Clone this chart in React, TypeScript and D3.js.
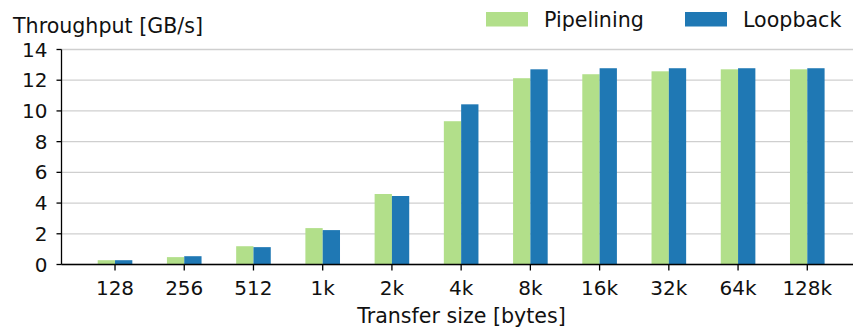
import React from "react";
import * as d3 from "d3";

const categories = ["128", "256", "512", "1k", "2k", "4k", "8k", "16k", "32k", "64k", "128k"];
const pipelining = [0.28, 0.48, 1.19, 2.37, 4.59, 9.33, 12.13, 12.39, 12.58, 12.71, 12.71];
const loopback = [0.28, 0.54, 1.13, 2.24, 4.46, 10.43, 12.71, 12.78, 12.78, 12.78, 12.78];
const yTicks = [0, 2, 4, 6, 8, 10, 12, 14];

const seriesNames = ["Pipelining", "Loopback"];
const colors = ["#b2df8a", "#1f78b4"];

const W = 853;
const H = 331;
const left = 61.5;
const top = 49.5;
const bottom = 264.5;
const font = "'DejaVu Sans', sans-serif";
const tickFs = 20;
const labelFs = 20.6;

export default function App() {
  const x = d3.scalePoint<string>().domain(categories).range([left, 860.8]).padding(0.773);
  const step = x.step();
  const barW = step * 0.25;
  const y = d3.scaleLinear().domain([0, 14]).range([bottom, top]);
  const series = [pipelining, loopback];

  return (
    <svg width={W} height={H} style={{ position: "absolute", left: 0, top: 0, background: "#fff" }}>
      {/* grid */}
      {yTicks.map((t) => (
        <line key={"g" + t} x1={left} x2={W} y1={y(t)} y2={y(t)} stroke="#cfcfcf" strokeWidth={1.3} />
      ))}
      {/* bars */}
      {series.map((vals, si) =>
        vals.map((v, i) => (
          <rect
            key={si + "-" + i}
            x={(x(categories[i]) as number) - barW + si * barW}
            y={y(v)}
            width={barW}
            height={y(0) - y(v)}
            fill={colors[si]}
          />
        ))
      )}
      {/* y axis */}
      <line x1={left} x2={left} y1={top} y2={bottom} stroke="#000" strokeWidth={1.3} />
      {yTicks.map((t) => (
        <g key={"y" + t}>
          <line x1={left - 5} x2={left} y1={y(t)} y2={y(t)} stroke="#000" strokeWidth={1.3} />
          <text x={left - 14} y={y(t) + 7} textAnchor="end" fontSize={tickFs} fontFamily={font} fill="#111">
            {t}
          </text>
        </g>
      ))}
      {/* x axis */}
      <line x1={left} x2={W} y1={bottom} y2={bottom} stroke="#000" strokeWidth={1.3} />
      {categories.map((c) => (
        <g key={"x" + c}>
          <line x1={x(c)} x2={x(c)} y1={bottom} y2={bottom + 6} stroke="#000" strokeWidth={1.3} />
          <text x={x(c)} y={295} textAnchor="middle" fontSize={tickFs} fontFamily={font} fill="#111">
            {c}
          </text>
        </g>
      ))}
      <text x={461.5} y={323} textAnchor="middle" fontSize={labelFs} fontFamily={font} fill="#111">
        Transfer size [bytes]
      </text>
      <text x={13} y={33} fontSize={labelFs} fontFamily={font} fill="#111">
        Throughput [GB/s]
      </text>
      {/* legend */}
      {seriesNames.map((n, i) => {
        const lx = [486, 685][i];
        return (
          <g key={n}>
            <rect x={lx} y={12} width={42} height={14.5} fill={colors[i]} />
            <text x={lx + 58} y={27} fontSize={labelFs} fontFamily={font} fill="#111">
              {n}
            </text>
          </g>
        );
      })}
    </svg>
  );
}
